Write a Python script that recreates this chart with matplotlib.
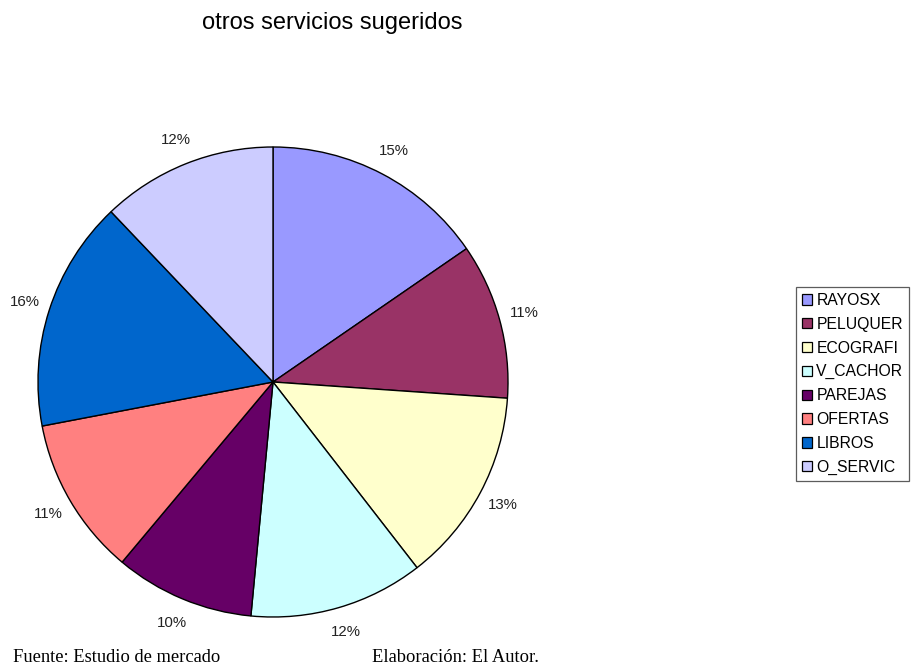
import matplotlib
matplotlib.use('Agg')
import matplotlib.pyplot as plt
from matplotlib.patches import Patch

plt.rcParams['font.family'] = ['Liberation Sans', 'DejaVu Sans']

# ── Data ──────────────────────────────────────────────────────
categories = ['RAYOSX', 'PELUQUER', 'ECOGRAFI', 'V_CACHOR',
              'PAREJAS', 'OFERTAS', 'LIBROS', 'O_SERVIC']
shares = [15.4, 10.7, 13.4, 12.0, 9.6, 10.9, 15.9, 12.1]
colors = ['#9999FF', '#993366', '#FFFFCC', '#CCFFFF',
          '#660066', '#FF8080', '#0066CC', '#CCCCFF']

W, H = 914, 666
fig = plt.figure(figsize=(W / 100, H / 100), dpi=100, facecolor='white')

# pie box: centre (273, 382), radius 235 px
cx, cy, r = 273, 382, 235
ax = fig.add_axes([(cx - r) / W, (H - cy - r) / H, 2 * r / W, 2 * r / H])
wedges, _, autotexts = ax.pie(
    shares, colors=colors, startangle=90, counterclock=False,
    autopct='%.0f%%', pctdistance=1.11, radius=1.0,
    wedgeprops=dict(edgecolor='black', linewidth=1.0),
    textprops=dict(fontsize=10.8, color='#222222'))
ax.set_xlim(-1, 1)
ax.set_ylim(-1, 1)
ax.set_aspect('equal')
ax.axis('off')

fig.text(332 / W, 1 - 23 / H, 'otros servicios sugeridos',
         ha='center', va='center', fontsize=17)

handles = [Patch(facecolor=c, edgecolor='black', linewidth=0.9) for c in colors]
leg = fig.legend(handles, categories, loc='upper left',
                 bbox_to_anchor=(796 / W, 1 - 287 / H),
                 fontsize=11.3, frameon=True, fancybox=False,
                 edgecolor='#333333', handlelength=0.64, handleheight=0.64,
                 handletextpad=0.28, labelspacing=0.56, borderpad=0.38,
                 borderaxespad=0)
leg.get_frame().set_linewidth(0.9)

serif = ['Liberation Serif', 'DejaVu Serif']
fig.text(13 / W, 1 - 657 / H, 'Fuente: Estudio de mercado',
         ha='left', va='center', fontsize=13.3, family=serif)
fig.text(372 / W, 1 - 657 / H, 'Elaboración: El Autor.',
         ha='left', va='center', fontsize=13.3, family=serif)

fig.savefig('out.png', dpi=100, facecolor='white')
